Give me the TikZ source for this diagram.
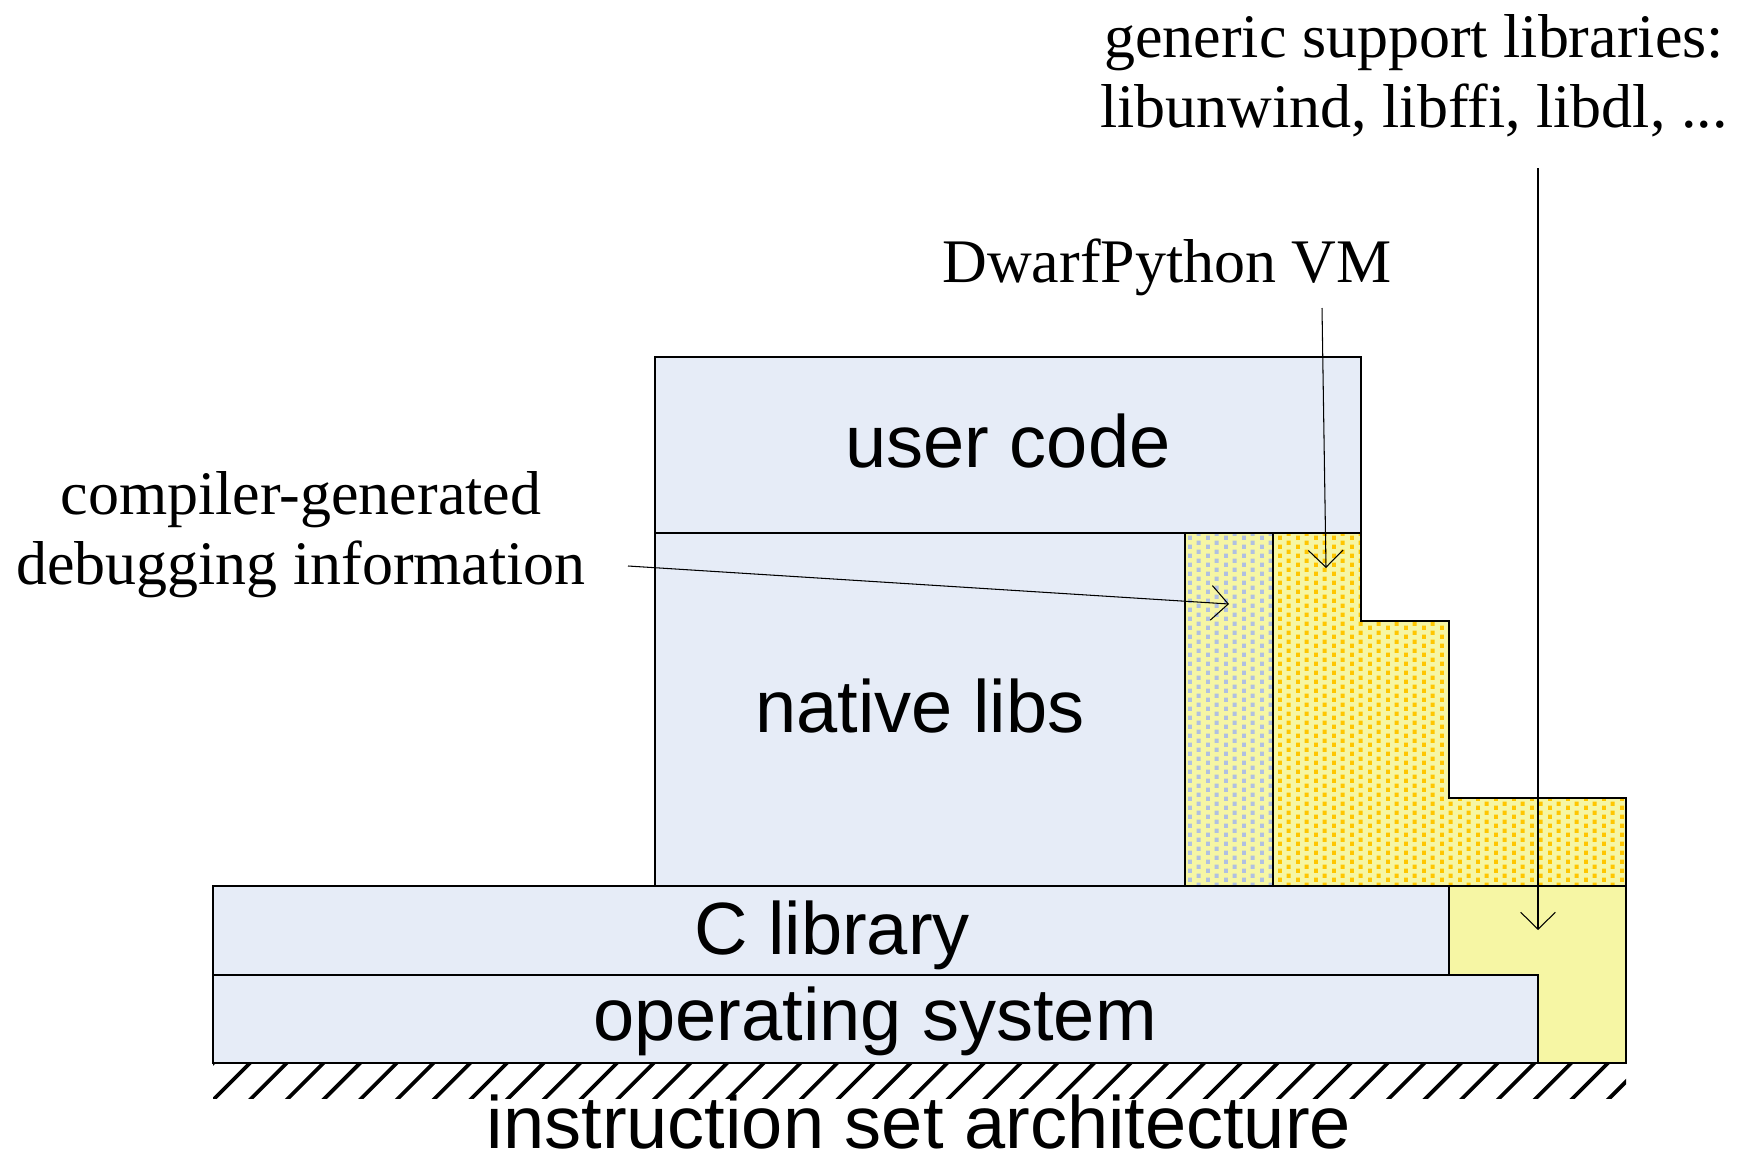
\documentclass[tikz,border=0pt]{standalone}
\usepackage{fontspec}
\setmainfont{Liberation Serif}
\newfontfamily\arialf{Liberation Sans}
\usetikzlibrary{arrows.meta,patterns}

\definecolor{boxblue}{RGB}{230,236,247}
\definecolor{lyellow}{RGB}{246,246,164}
\definecolor{dotblue}{RGB}{176,192,226}
\definecolor{dotorange}{RGB}{255,198,0}

\pgfdeclarepatternformonly{sqdots}{\pgfpointorigin}{\pgfpoint{5.4mm}{2.7mm}}{\pgfpoint{5.4mm}{2.7mm}}{%
  \pgfpathrectangle{\pgfpoint{0mm}{0mm}}{\pgfpoint{1.25mm}{1.45mm}}%
  \pgfpathrectangle{\pgfpoint{2.7mm}{1.35mm}}{\pgfpoint{1.25mm}{1.45mm}}%
  \pgfusepath{fill}}

\begin{document}
\begin{tikzpicture}[x=0.3mm,y=-0.3mm,
  layer/.style={draw=black, line width=1.5pt, fill=boxblue},
  plainyellow/.style={draw=black, line width=1.5pt, fill=lyellow},
  dotted area/.style={draw=black, line width=1.5pt, preaction={fill=lyellow}, pattern=sqdots, pattern color=#1},
  lbl/.style={font=\arialf\fontsize{63.2pt}{76pt}\selectfont, inner sep=0pt, anchor=base},
  note/.style={font=\fontsize{52.9pt}{64pt}\selectfont, inner sep=0pt, anchor=base},
  pointer/.style={draw=black, line width=0.9pt, -{Straight Barb[length=5.1mm,width=10.4mm]}},
  hatchline/.style={draw=black, line width=3.2pt}
]
\useasboundingbox (0,0) rectangle (1737,1161);

% instruction set architecture hatching
\begin{scope}
  \clip (213,1063) rectangle (1626,1098);
  \foreach \i in {-1,...,39} {
    \draw[hatchline] ({215+36.7*\i-4},1102) -- ++(44,-44);
  }
\end{scope}

% layers
\draw[layer] (213,975) rectangle (1538,1063);
\draw[layer] (213,886) rectangle (1449,975);
\draw[plainyellow] (1449,886) -- (1626,886) -- (1626,1063) -- (1538,1063) -- (1538,975) -- (1449,975) -- cycle;
\draw[layer] (655,357) rectangle (1361,533);
\draw[layer] (655,533) rectangle (1185,886);
\draw[dotted area=dotblue] (1185,533) rectangle (1273,886);
\draw[dotted area=dotorange] (1273,533) -- (1361,533) -- (1361,621) -- (1449,621) -- (1449,798) -- (1626,798) -- (1626,886) -- (1273,886) -- cycle;

% layer labels
\node[lbl] (user) at (1008,467) {user code};
\node[lbl] (native) at (920,732) {native libs};
\node[lbl] (clib) at (832,954) {C library};
\node[lbl] (os) at (875,1040) {operating system};
\node[lbl] (isa) at (919,1148) {instruction set architecture};

% annotations
\node[note] (gen1) at (1414,57) {generic support libraries:};
\node[note] (gen2) at (1414,127) {libunwind, libffi, libdl, ...};
\node[note] (vm) at (1167,282) {DwarfPython VM};
\node[note] (dbg1) at (301,514) {compiler-generated};
\node[note] (dbg2) at (301,584) {debugging information};

% connectors
\coordinate (genstart) at (1538,168);
\coordinate (gentip) at (1538,930);
\coordinate (vmstart) at (1322,308);
\coordinate (vmtip) at (1326,568);
\coordinate (dbgstart) at (628,566);
\coordinate (dbgtip) at (1229,604);
\draw[pointer] (genstart) -- (gentip);
\draw[pointer] (vmstart) -- (vmtip);
\draw[pointer] (dbgstart) -- (dbgtip);
\end{tikzpicture}
\end{document}
